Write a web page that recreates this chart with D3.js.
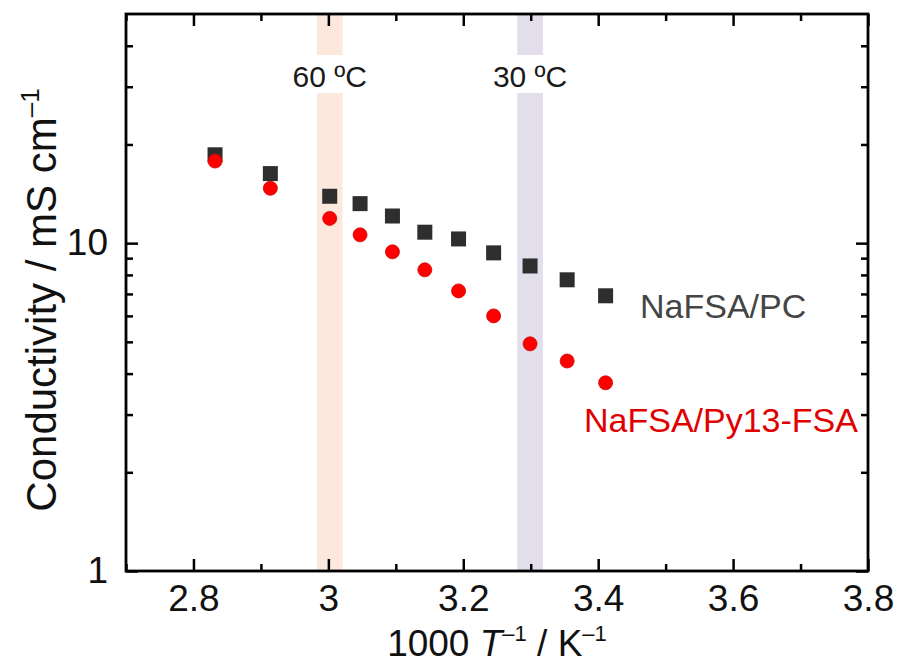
<!DOCTYPE html>
<html>
<head>
<meta charset="utf-8">
<script src="https://cdn.jsdelivr.net/npm/d3@7"></script>
<style>
  body { margin: 0; background: #fff; }
  text { font-family: "Liberation Sans", Arial, Helvetica, sans-serif; }
</style>
</head>
<body>
<div class="container"></div>
<script>
const WIDTH = 898;
const HEIGHT = 665;
const LEFT = 126, RIGHT = 868, TOP = 14, BOTTOM = 571;

// 1000/T values (K^-1), one per measured temperature
var invT = [2.832, 2.914, 3.002, 3.047, 3.095, 3.143, 3.193, 3.245, 3.299, 3.354, 3.411];
var pcValues = [18.6, 16.3, 13.9, 13.2, 12.1, 10.8, 10.3, 9.34, 8.52, 7.73, 6.91];
var ilValues = [17.8, 14.7, 11.9, 10.6, 9.41, 8.29, 7.15, 6.00, 4.93, 4.37, 3.75];

var xMajor = [2.8, 3, 3.2, 3.4, 3.6, 3.8];
var xMinor = [2.7, 2.9, 3.1, 3.3, 3.5, 3.7];
var yMajor = [1, 10];
var yMinor = [2, 3, 4, 5, 6, 7, 8, 9, 20, 30, 40];

var bandCenters = [3.002, 3.299];
var bandLabels = ["60 \u00baC", "30 \u00baC"];
var bandColors = ["#fce8dc", "#e2deeb"];

var xScale = d3.scaleLinear()
    .domain([2.7, 3.8])
    .range([LEFT, RIGHT]);

var yScale = d3.scaleLog()
    .domain([1, 50])
    .range([BOTTOM, TOP]);

var svg = d3.select('.container').append('svg')
    .attr('width', WIDTH)
    .attr('height', HEIGHT);

// temperature bands
bandCenters.forEach(function (c, i) {
    svg.append('rect')
        .attr('x', xScale(c - 0.019))
        .attr('width', xScale(c + 0.019) - xScale(c - 0.019))
        .attr('y', TOP)
        .attr('height', BOTTOM - TOP)
        .attr('fill', bandColors[i]);
    svg.append('rect')
        .attr('x', xScale(c) - 45)
        .attr('width', 90)
        .attr('y', 55)
        .attr('height', 38)
        .attr('fill', '#fff');
    svg.append('text')
        .attr('x', xScale(c))
        .attr('y', 87)
        .attr('text-anchor', 'middle')
        .attr('font-size', 30)
        .attr('fill', '#1a1a1a')
        .text(bandLabels[i]);
});

// axes with inward ticks on all four sides
var addAxis = function (axis, tx, ty) {
    var g = svg.append('g')
        .attr('transform', 'translate(' + tx + ',' + ty + ')')
        .call(axis);
    g.select('.domain').remove();
    g.selectAll('.tick line').attr('stroke', '#000').attr('stroke-width', 2.5);
    return g;
};

var xb = addAxis(d3.axisBottom(xScale).tickValues(xMajor).tickSize(-12).tickPadding(14)
    .tickFormat(function (d) { return d; }), 0, BOTTOM);
xb.selectAll('text').attr('font-size', 37).attr('fill', '#111')
    .style('font-family', '"Liberation Sans", Arial, sans-serif');
addAxis(d3.axisBottom(xScale).tickValues(xMinor).tickSize(-7).tickFormat(''), 0, BOTTOM);
addAxis(d3.axisTop(xScale).tickValues(xMajor).tickSize(-12).tickFormat(''), 0, TOP);
addAxis(d3.axisTop(xScale).tickValues(xMinor).tickSize(-7).tickFormat(''), 0, TOP);

var yl = addAxis(d3.axisLeft(yScale).tickValues(yMajor).tickSize(-12).tickPadding(18)
    .tickFormat(function (d) { return d; }), LEFT, 0);
yl.selectAll('text').attr('font-size', 37).attr('fill', '#111')
    .style('font-family', '"Liberation Sans", Arial, sans-serif');
addAxis(d3.axisLeft(yScale).tickValues(yMinor).tickSize(-7).tickFormat(''), LEFT, 0);
addAxis(d3.axisRight(yScale).tickValues(yMajor).tickSize(-12).tickFormat(''), RIGHT, 0);
addAxis(d3.axisRight(yScale).tickValues(yMinor).tickSize(-7).tickFormat(''), RIGHT, 0);

// frame
svg.append('rect')
    .attr('x', LEFT).attr('y', TOP)
    .attr('width', RIGHT - LEFT).attr('height', BOTTOM - TOP)
    .attr('fill', 'none').attr('stroke', '#000').attr('stroke-width', 2.8);

// data
svg.append('g').selectAll('rect').data(invT)
    .enter().append('rect')
    .attr('x', function (d) { return xScale(d) - 7.5; })
    .attr('y', function (d, i) { return yScale(pcValues[i]) - 7.5; })
    .attr('width', 15).attr('height', 15)
    .attr('fill', '#2e2e2e');

svg.append('g').selectAll('circle').data(invT)
    .enter().append('circle')
    .attr('cx', function (d) { return xScale(d); })
    .attr('cy', function (d, i) { return yScale(ilValues[i]); })
    .attr('r', 7)
    .attr('fill', '#ff0000')
    .attr('stroke', '#d40000').attr('stroke-width', 0.8);

// series labels
svg.append('text')
    .attr('x', 640).attr('y', 318)
    .attr('font-size', 34).attr('fill', '#454545')
    .text('NaFSA/PC');
svg.append('text')
    .attr('x', 584).attr('y', 432)
    .attr('font-size', 34).attr('fill', '#e00000')
    .text('NaFSA/Py13-FSA');

// axis titles
var xt = svg.append('text')
    .attr('x', (LEFT + RIGHT) / 2).attr('y', 656)
    .attr('text-anchor', 'middle')
    .attr('font-size', 37).attr('fill', '#111');
xt.append('tspan').text('1000 ');
xt.append('tspan').attr('font-style', 'italic').text('T');
xt.append('tspan').attr('font-size', 22).attr('dy', -15).text('\u20131');
xt.append('tspan').attr('dy', 15).text(' / K');
xt.append('tspan').attr('font-size', 22).attr('dy', -15).text('\u20131');

var yt = svg.append('text')
    .attr('transform', 'translate(56,300) rotate(-90)')
    .attr('text-anchor', 'middle')
    .attr('font-size', 42).attr('fill', '#111');
yt.append('tspan').text('Conductivity / mS cm');
yt.append('tspan').attr('font-size', 26).attr('dy', -17).text('\u20131');
</script>
</body>
</html>
